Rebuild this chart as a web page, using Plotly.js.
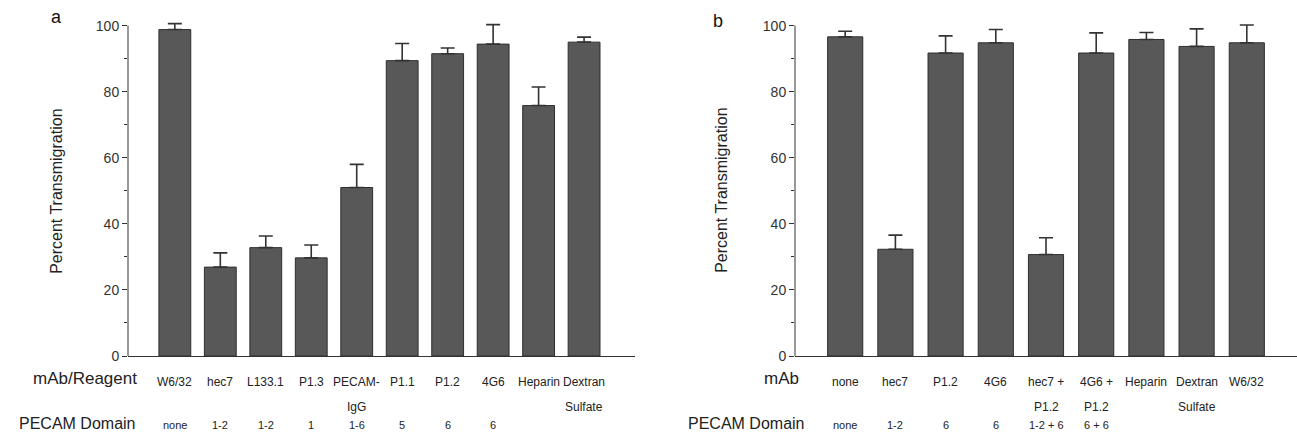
<!DOCTYPE html>
<html>
<head>
<meta charset="utf-8">
<script src="https://cdn.plot.ly/plotly-3.0.1.min.js"></script>
<style>html,body{margin:0;padding:0;background:#fff;}#chart{width:1297px;height:433px;}</style>
</head>
<body>
<div id="chart"></div>
<script>
// ---------- Panel a ----------
const labelsA = ["W6/32", "hec7", "L133.1", "P1.3", "PECAM-\nIgG", "P1.1", "P1.2", "4G6", "Heparin", "Dextran\nSulfate"];
const domainsA = ["none", "1-2", "1-2", "1", "1-6", "5", "6", "6", "", ""];
const valuesA = [98.8, 26.9, 32.8, 29.7, 51.0, 89.4, 91.5, 94.4, 75.8, 95.0];
const errorsA = [1.8, 4.3, 3.5, 3.9, 7.0, 5.2, 1.7, 5.9, 5.6, 1.5];

// ---------- Panel b ----------
const labelsB = ["none", "hec7", "P1.2", "4G6", "hec7 +\nP1.2", "4G6 +\nP1.2", "Heparin", "Dextran\nSulfate", "W6/32"];
const domainsB = ["none", "1-2", "6", "6", "1-2 + 6", "6 + 6", "", "", ""];
const valuesB = [96.6, 32.3, 91.7, 94.8, 30.7, 91.7, 95.8, 93.7, 94.8];
const errorsB = [1.7, 4.3, 5.2, 4.0, 5.1, 6.1, 2.1, 5.3, 5.4];

const yTickVals = [0, 20, 40, 60, 80, 100];

const FONT = "Liberation Sans, Arial, Helvetica, sans-serif";
const TXT = "#222";
const AX = "#333";
const BAR = "#585858";

function pos(arr) { return arr.map((_, i) => i + 1); }

function barTrace(vals, errs, xa, ya) {
  return {
    type: "bar",
    x: pos(vals),
    y: vals,
    xaxis: xa,
    yaxis: ya,
    width: 0.7,
    cliponaxis: false,
    marker: { color: BAR, line: { color: "#2e2e2e", width: 1 } },
    error_y: {
      type: "data", symmetric: false, array: errs, arrayminus: errs.map(() => 0),
      color: "#333", thickness: 1.6, width: 7
    },
    hoverinfo: "x+y"
  };
}

const traces = [barTrace(valuesA, errorsA, "x", "y"), barTrace(valuesB, errorsB, "x2", "y2")];

const annotations = [];
function rowLabels(labels, domains, xref) {
  labels.forEach((lab, i) => {
    const lines = lab.split("\n");
    lines.forEach((ln, j) => {
      annotations.push({
        xref: xref, yref: "paper", x: i + 1, y: 0, yanchor: "middle", xanchor: "center",
        yshift: -(26 + j * 25), text: ln, showarrow: false,
        font: { family: FONT, size: 12, color: TXT }
      });
    });
    if (domains[i]) {
      annotations.push({
        xref: xref, yref: "paper", x: i + 1, y: 0, yanchor: "middle", xanchor: "center",
        yshift: -69, text: domains[i], showarrow: false,
        font: { family: FONT, size: 11, color: TXT }
      });
    }
  });
}
rowLabels(labelsA, domainsA, "x");
rowLabels(labelsB, domainsB, "x2");

function rowTitle(text, xref, xshift, yshift, size) {
  annotations.push({
    xref: xref, yref: "paper", x: 0, y: 0, xanchor: "right", yanchor: "middle",
    xshift: xshift, yshift: yshift, text: text, showarrow: false,
    font: { family: FONT, size: size, color: TXT }
  });
}
rowTitle("mAb/Reagent", "x", 10, -22, 17);
rowTitle("PECAM Domain", "x", 8, -67, 16);
rowTitle("mAb", "x2", 6, -22, 17);
rowTitle("PECAM Domain", "x2", 11, -67, 16);

// y-axis titles and panel letters
[["a", 56, 57, 17], ["b", 718, 722, 21]].forEach(([letter, lx, tx, ly]) => {
  annotations.push({
    xref: "paper", yref: "paper", x: tx / 1297, y: 0.49, xanchor: "center", yanchor: "middle",
    textangle: -90, text: "Percent Transmigration", showarrow: false,
    font: { family: FONT, size: 16, color: TXT }
  });
  annotations.push({
    xref: "paper", yref: "paper", x: lx / 1297, y: (356 - ly) / 337, xanchor: "center", yanchor: "middle",
    text: letter, showarrow: false,
    font: { family: FONT, size: 18, color: "#111" }
  });
});

// y axis lines drawn only from 0 to 100 (range extends a bit above for error bars)
const shapes = [["x", "y"], ["x2", "y2"]].map(([xr, yr]) => ({
  type: "line", xref: xr + " domain", yref: yr, x0: 0, x1: 0, y0: 0, y1: 100,
  line: { color: AX, width: 1 }
}));

function yAxis(anchor) {
  return {
    anchor: anchor, range: [0, 102], domain: [0, 1],
    tickvals: yTickVals, ticktext: yTickVals.map(String),
    ticks: "outside", ticklen: 5, tickwidth: 1, tickcolor: AX,
    minor: { tickvals: [10, 30, 50, 70, 90], ticks: "outside", ticklen: 3, tickcolor: AX, showgrid: false },
    showline: false,
    showgrid: false, zeroline: false,
    tickfont: { family: FONT, size: 14, color: "#333" }
  };
}
function xAxis(anchor, domain, range) {
  return {
    anchor: anchor, domain: domain, range: range,
    showline: true, linecolor: AX, linewidth: 1.2,
    showticklabels: false, ticks: "", showgrid: false, zeroline: false
  };
}

const layout = {
  width: 1297, height: 433,
  margin: { l: 0, r: 0, t: 19, b: 77 },
  paper_bgcolor: "#fff", plot_bgcolor: "#fff",
  showlegend: false,
  xaxis: xAxis("y", [128 / 1297, 635 / 1297], [-0.03, 11.12]),
  yaxis: yAxis("x"),
  xaxis2: xAxis("y2", [795 / 1297, 1], [0, 10]),
  yaxis2: yAxis("x2"),
  shapes: shapes,
  annotations: annotations,
  font: { family: FONT, color: TXT }
};

Plotly.newPlot("chart", traces, layout, { displayModeBar: false, staticPlot: true });
</script>
</body>
</html>
